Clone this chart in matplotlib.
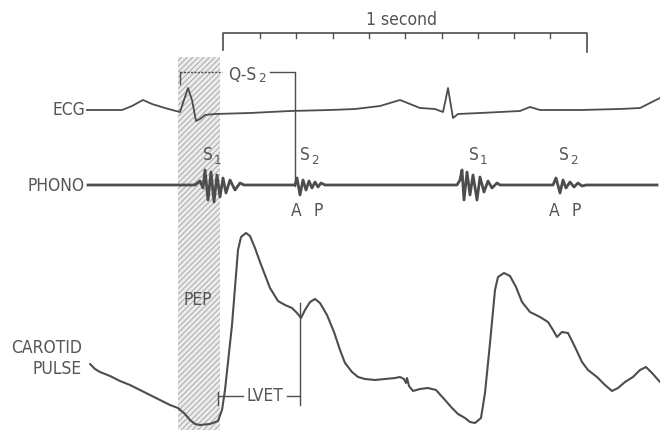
import matplotlib
matplotlib.use("Agg")
import matplotlib.pyplot as plt
from matplotlib.patches import Rectangle

plt.rcParams['font.family'] = ['DejaVu Sans']
plt.rcParams['hatch.linewidth'] = 0.7

# ---- traces (horizontal = time position, vertical = screen-down amplitude) ----
ecg_x = [87, 122, 132, 143, 152, 165, 176, 180, 184, 188, 192, 196, 200, 205, 215,
         250, 290, 330, 355, 380, 390, 400, 410, 420, 435, 443, 446, 448, 450, 453,
         458, 480, 520, 530, 540, 580, 620, 640, 650, 660]
ecg_y = [110, 110, 106, 100, 104, 108, 111, 112, 100, 88, 100, 121, 119, 115, 114,
         113, 111, 110, 109, 106, 103, 100, 104, 108, 109, 112, 98, 88, 100, 118,
         114, 113, 111, 107, 110, 110, 109, 108, 103, 98]

phono_x = [88, 195, 200, 203, 205, 208, 211, 214, 217, 220, 223, 226, 230, 235, 240, 244,
           295, 297, 300, 303, 306, 309, 312, 315, 318, 321, 325,
           457, 460, 462, 464, 467, 470, 473, 477, 480, 484, 488, 492, 497, 500,
           553, 556, 560, 563, 566, 570, 574, 578, 582, 586, 657]
phono_y = [185, 185, 181, 188, 170, 200, 172, 202, 175, 197, 178, 193, 180, 190, 183, 185,
           185, 178, 195, 180, 190, 181, 188, 182, 187, 183, 185,
           185, 180, 170, 200, 172, 195, 175, 200, 177, 192, 181, 188, 183, 185,
           185, 178, 193, 180, 188, 182, 187, 183, 186, 185, 185]

carotid_x = [90, 95, 100, 110, 120, 130, 140, 150, 160, 170, 178, 185, 190, 195, 200,
             210, 218, 222, 225, 232, 238, 241, 246, 250, 255, 260, 265, 270, 278,
             285, 292, 297, 301, 305, 310, 315, 320, 327, 334, 340, 345, 352, 358,
             365, 375, 385, 395, 400, 404, 406, 407, 409, 413, 420, 428, 436, 445,
             452, 458, 465, 470, 475, 481, 485, 490, 495, 498, 504, 510, 516, 522,
             530, 540, 548, 553, 557, 562, 568, 575, 582, 588, 597, 605, 612, 618,
             625, 633, 640, 646, 652, 660]
carotid_y = [364, 369, 372, 376, 381, 385, 390, 395, 400, 405, 408, 414, 420, 424, 425,
             424, 421, 410, 390, 325, 250, 237, 233, 236, 248, 262, 275, 288, 301,
             305, 308, 313, 318, 310, 302, 299, 303, 315, 332, 350, 363, 372, 377,
             379, 380, 379, 378, 377, 379, 383, 378, 386, 391, 389, 388, 390, 400,
             408, 414, 418, 422, 423, 418, 393, 343, 290, 277, 273, 276, 287, 302,
             312, 317, 322, 330, 337, 332, 333, 347, 362, 370, 377, 385, 391, 388,
             382, 377, 370, 367, 373, 382]

second_ticks = [223, 260, 296, 333, 369, 405, 442, 478, 514, 550, 587]

line_col = '#4d4d4d'
text_col = '#555555'
tk = dict(color=text_col, fontstretch='condensed')
fs = 12.5
fs_sub = 9.5

fig = plt.figure(figsize=(6.6, 4.3), dpi=100)
ax = fig.add_axes([0, 0, 1, 1])
ax.set_xlim(0, 660)
ax.set_ylim(430, 0)
ax.axis('off')

# PEP hatched band
ax.add_patch(Rectangle((178, 57), 42, 380, facecolor='#ececec', edgecolor='#a8a8a8',
                       hatch='//////', linewidth=0, zorder=0))

ax.plot(ecg_x, ecg_y, color=line_col, lw=1.3, solid_joinstyle='round')
ax.plot(phono_x, phono_y, color=line_col, lw=2.0, solid_joinstyle='round')
ax.plot(carotid_x, carotid_y, color=line_col, lw=1.5, solid_joinstyle='round',
        solid_capstyle='round')

# 1-second bracket
ax.plot([223, 223, 587, 587], [50, 33, 33, 52], color=line_col, lw=1.2)
for t in second_ticks[1:-1]:
    ax.plot([t, t], [33, 38], color=line_col, lw=1.0)
ax.text(402, 20, '1 second', ha='center', va='center', fontsize=fs, **tk)

# Q-S2 bracket
ax.plot([180, 180], [84, 72], color=line_col, lw=1.0)
ax.plot([180, 222], [72, 72], color=line_col, lw=1.0, ls=(0, (1.5, 1)))
ax.plot([270, 295, 295], [72, 72, 186], color=line_col, lw=1.0)
ax.text(228, 75, 'Q-S', ha='left', va='center', fontsize=fs, **tk)
ax.text(258, 79, '2', ha='left', va='center', fontsize=fs_sub, **tk)

# LVET bracket
ax.plot([218, 218], [392, 405], color=line_col, lw=1.0)
ax.plot([218, 243], [396, 396], color=line_col, lw=1.0)
ax.plot([287, 300], [396, 396], color=line_col, lw=1.0)
ax.plot([300, 300], [303, 405], color=line_col, lw=1.0)
ax.text(265, 396, 'LVET', ha='center', va='center', fontsize=fs, **tk)

# labels
ax.text(85, 110, 'ECG', ha='right', va='center', fontsize=fs, **tk)
ax.text(85, 186, 'PHONO', ha='right', va='center', fontsize=fs, **tk)
ax.text(82, 348, 'CAROTID', ha='right', va='center', fontsize=fs, **tk)
ax.text(82, 369, 'PULSE', ha='right', va='center', fontsize=fs, **tk)
ax.text(198, 300, 'PEP', ha='center', va='center', fontsize=fs, **tk)

for sx, num in [(203, '1'), (300, '2'), (469, '1'), (559, '2')]:
    ax.text(sx, 155, 'S', ha='left', va='center', fontsize=fs, **tk)
    ax.text(sx + 11, 160, num, ha='left', va='center', fontsize=fs_sub, **tk)

for ax_x, p_x in [(296, 318), (554, 576)]:
    ax.text(ax_x, 211, 'A', ha='center', va='center', fontsize=fs, **tk)
    ax.text(p_x, 211, 'P', ha='center', va='center', fontsize=fs, **tk)

fig.savefig('out.png', dpi=100, facecolor='white')
